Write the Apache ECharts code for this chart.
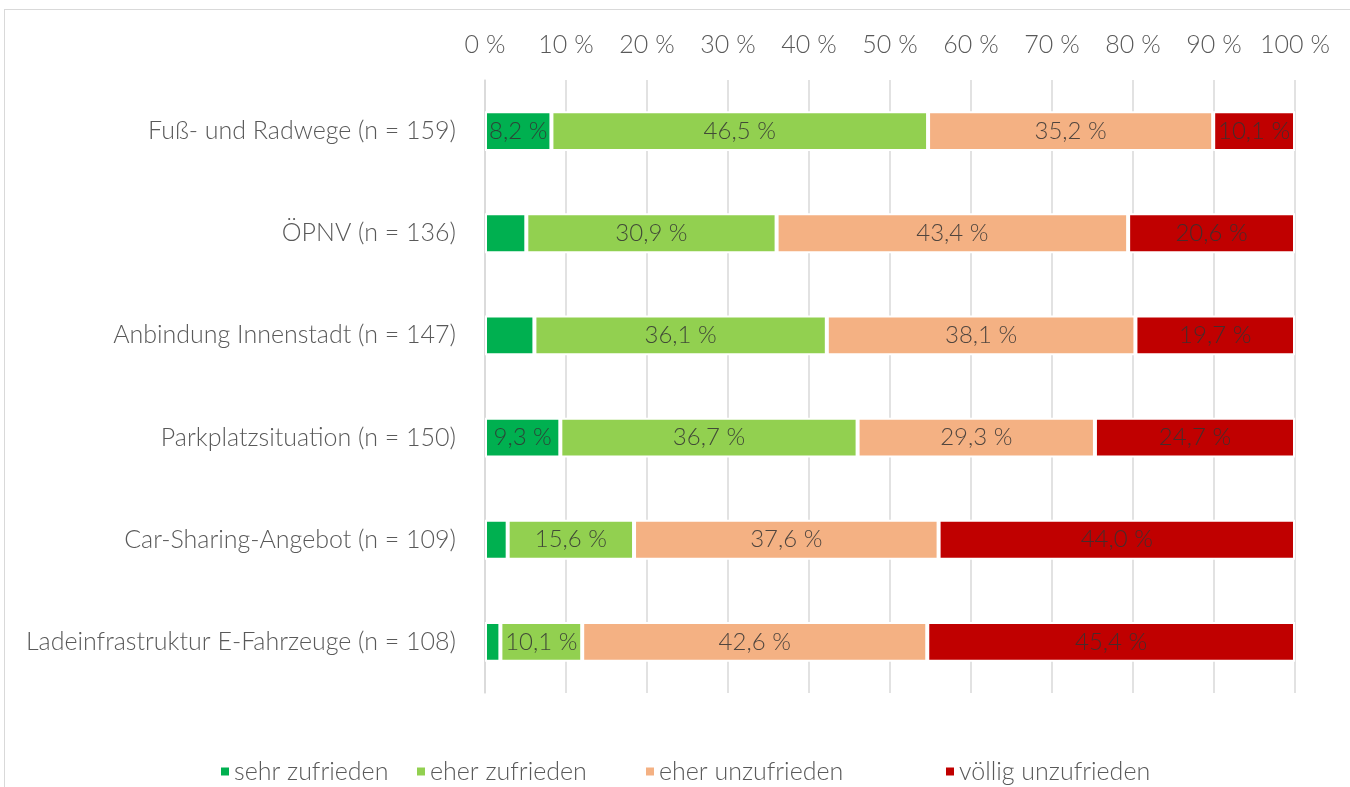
<!DOCTYPE html>
<html>
<head>
<meta charset="utf-8">
<script src="https://cdn.jsdelivr.net/npm/echarts@6/dist/echarts.min.js"></script>
<style>
  html, body { margin: 0; padding: 0; background: #fff; }
  #frame { position: absolute; left: 4px; top: 9px; width: 1360px; height: 800px; border: 1px solid #d9d9d9; box-sizing: border-box; }
  #chart { width: 1350px; height: 787px; position: absolute; left: 0; top: 0; }
</style>
</head>
<body>
<div id="frame"></div>
<div id="chart"></div>
<script>
// Zufriedenheit mit der Verkehrsinfrastruktur (Anteile in Prozent)
const categories = [
  'Fuß- und Radwege (n = 159)',
  'ÖPNV (n = 136)',
  'Anbindung Innenstadt (n = 147)',
  'Parkplatzsituation (n = 150)',
  'Car-Sharing-Angebot (n = 109)',
  'Ladeinfrastruktur E-Fahrzeuge (n = 108)'
];
const sehrZufrieden      = [8.2, 5.1, 6.1, 9.3, 2.8, 1.9];
const eherZufrieden      = [46.5, 30.9, 36.1, 36.7, 15.6, 10.1];
const eherUnzufrieden    = [35.2, 43.4, 38.1, 29.3, 37.6, 42.6];
const voelligUnzufrieden = [10.1, 20.6, 19.7, 24.7, 44.0, 45.4];
const seriesNames = ['sehr zufrieden', 'eher zufrieden', 'eher unzufrieden', 'völlig unzufrieden'];
const seriesColors = ['#00b050', '#92d050', '#f4b183', '#c00000'];

const FONT = 'Lato, "Open Sans", sans-serif';
const fmt = v => v.toFixed(1).replace('.', ',') + ' %';

const chart = echarts.init(document.getElementById('chart'));
const seriesData = [sehrZufrieden, eherZufrieden, eherUnzufrieden, voelligUnzufrieden];

// one legend entry per block, spaced like a spreadsheet legend
const legendLeft = [214, 410, 639, 939];
const legends = seriesNames.map((name, i) => ({
  left: legendLeft[i],
  bottom: -2,
  itemWidth: 10,
  itemHeight: 10,
  itemGap: 0,
  icon: 'rect',
  textStyle: { fontFamily: FONT, fontSize: 25, fontWeight: 300, color: '#595959', padding: [0, 0, 0, -1] },
  data: [name]
}));

chart.setOption({
  animation: false,
  grid: { left: 485, right: 55, top: 80, bottom: 94, containLabel: false },
  legend: legends,
  xAxis: {
    type: 'value',
    position: 'top',
    min: 0,
    max: 100,
    interval: 10,
    axisLine: { show: false },
    axisTick: { show: false },
    splitLine: { show: true, lineStyle: { color: '#d9d9d9', width: 1.5 } },
    axisLabel: {
      fontFamily: FONT, fontSize: 25, fontWeight: 300, color: '#595959', margin: 23,
      formatter: v => v + ' %'
    }
  },
  yAxis: {
    type: 'category',
    inverse: true,
    data: categories,
    axisLine: { show: true, lineStyle: { color: '#d9d9d9', width: 1.5 } },
    axisTick: { show: false },
    axisLabel: { fontFamily: FONT, fontSize: 25, fontWeight: 300, color: '#595959', margin: 29 }
  },
  series: seriesNames.map((name, i) => ({
    name,
    type: 'bar',
    stack: 'total',
    barWidth: '39%',
    itemStyle: { color: seriesColors[i], borderColor: '#ffffff', borderWidth: 2 },
    label: {
      show: true,
      position: 'inside',
      fontFamily: FONT,
      fontSize: 24,
      fontWeight: 300,
      color: 'rgba(50,50,50,0.85)',
      formatter: p => (p.value >= 7 ? fmt(p.value) : '')
    },
    data: seriesData[i]
  }))
});
</script>
</body>
</html>
